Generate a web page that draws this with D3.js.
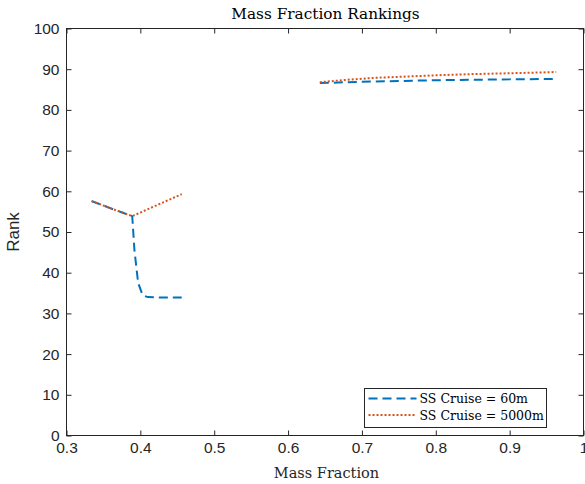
<!DOCTYPE html>
<html>
<head>
<meta charset="utf-8">
<script src="https://cdn.jsdelivr.net/npm/d3@7"></script>
<style>
  body { margin: 0; background: #fff; }
  svg { display: block; }
</style>
</head>
<body>
<div id="chart"></div>
<script>
// mass fraction (x) and rank (y), two separate segments per series
const cruise60Left = [[0.334, 57.6], [0.36, 55.8], [0.389, 53.9], [0.392, 45.5], [0.397, 37.5], [0.403, 34.5], [0.41, 34.0], [0.43, 33.9], [0.456, 33.9]];
const cruise60Right = [[0.643, 86.6], [0.7, 86.9], [0.75, 87.1], [0.8, 87.3], [0.85, 87.4], [0.9, 87.5], [0.963, 87.6]];
const cruise5000Left = [[0.334, 57.6], [0.36, 55.8], [0.389, 53.9], [0.42, 56.4], [0.456, 59.3]];
const cruise5000Right = [[0.643, 86.8], [0.68, 87.4], [0.72, 87.9], [0.76, 88.2], [0.8, 88.5], [0.85, 88.8], [0.9, 89.0], [0.963, 89.3]];

const xTicks = [0.3, 0.4, 0.5, 0.6, 0.7, 0.8, 0.9, 1];
const yTicks = [0, 10, 20, 30, 40, 50, 60, 70, 80, 90, 100];
const seriesNames = ['SS Cruise = 60m', 'SS Cruise = 5000m'];

const width = 585, height = 484;
const margin = { top: 28.5, right: 1.5, bottom: 48.5, left: 66.5 };
const axisColor = '#262626';
const blue = '#0072BD', orange = '#D95319';

const svg = d3.select('#chart').append('svg')
    .attr('width', width)
    .attr('height', height);

const x = d3.scaleLinear().domain([0.3, 1]).range([margin.left, width - margin.right]);
const y = d3.scaleLinear().domain([0, 100]).range([height - margin.bottom, margin.top]);

// box
svg.append('rect')
    .attr('x', x(0.3)).attr('y', y(100))
    .attr('width', x(1) - x(0.3)).attr('height', y(0) - y(100))
    .attr('fill', 'none').attr('stroke', axisColor).attr('stroke-width', 1);

const tickLen = 5;
const sans = 'Liberation Sans, Arial, sans-serif';
const serif = 'DejaVu Serif, serif';

// x axis
const xAxis = svg.append('g')
    .attr('transform', `translate(0,${y(0)})`)
    .call(d3.axisBottom(x).tickValues(xTicks).tickSize(-tickLen).tickPadding(6)
        .tickFormat(d3.format('')));
xAxis.select('.domain').remove();
xAxis.selectAll('line').attr('stroke', axisColor);
xAxis.selectAll('text').attr('fill', axisColor).style('font', `15.5px ${sans}`);

// top ticks
svg.append('g')
    .attr('transform', `translate(0,${y(100)})`)
    .call(d3.axisTop(x).tickValues(xTicks).tickSize(-tickLen).tickFormat(''))
    .call(g => g.select('.domain').remove())
    .selectAll('line').attr('stroke', axisColor);

// y axis
const yAxis = svg.append('g')
    .attr('transform', `translate(${x(0.3)},0)`)
    .call(d3.axisLeft(y).tickValues(yTicks).tickSize(-tickLen).tickPadding(7));
yAxis.select('.domain').remove();
yAxis.selectAll('line').attr('stroke', axisColor);
yAxis.selectAll('text').attr('fill', axisColor).style('font', `15.5px ${sans}`);

// right ticks
svg.append('g')
    .attr('transform', `translate(${x(1)},0)`)
    .call(d3.axisRight(y).tickValues(yTicks).tickSize(-tickLen).tickFormat(''))
    .call(g => g.select('.domain').remove())
    .selectAll('line').attr('stroke', axisColor);

const line = d3.line().x(d => x(d[0])).y(d => y(d[1]));

const draw = (data, color, dash) => {
  svg.append('path')
      .datum(data)
      .attr('d', line)
      .attr('fill', 'none')
      .attr('stroke', color)
      .attr('stroke-width', 2)
      .attr('stroke-dasharray', dash);
};

draw(cruise60Left, blue, '9,5');
draw(cruise60Right, blue, '9,5');
draw(cruise5000Left, orange, '2,2');
draw(cruise5000Right, orange, '2,2');

// title and labels
svg.append('text')
    .attr('x', 325.5).attr('y', 18.5)
    .attr('text-anchor', 'middle')
    .attr('fill', '#000')
    .style('font', `15.3px ${serif}`)
    .text('Mass Fraction Rankings');

svg.append('text')
    .attr('x', 326.5).attr('y', 477.5)
    .attr('text-anchor', 'middle')
    .attr('fill', axisColor)
    .style('font', `14.5px ${serif}`)
    .text('Mass Fraction');

svg.append('text')
    .attr('transform', `translate(18.5,${(y(0) + y(100)) / 2}) rotate(-90)`)
    .attr('text-anchor', 'middle')
    .attr('fill', axisColor)
    .style('font', `17px ${sans}`)
    .text('Rank');

// legend
const lg = svg.append('g').attr('transform', 'translate(364.5,388.5)');
lg.append('rect')
    .attr('width', 182).attr('height', 39)
    .attr('fill', '#fff').attr('stroke', axisColor).attr('stroke-width', 1);

const legendStyles = [[blue, '9,5'], [orange, '2,2']];
seriesNames.forEach((name, i) => {
  const row = lg.append('g').attr('transform', `translate(0,${10 + i * 16.5})`);
  row.append('line')
      .attr('x1', 4).attr('x2', 52).attr('y1', 0).attr('y2', 0)
      .attr('stroke', legendStyles[i][0])
      .attr('stroke-width', 2)
      .attr('stroke-dasharray', legendStyles[i][1]);
  row.append('text')
      .attr('x', 55).attr('y', 4.5)
      .attr('fill', '#000')
      .style('font', `12.5px ${serif}`)
      .text(name);
});
</script>
</body>
</html>
